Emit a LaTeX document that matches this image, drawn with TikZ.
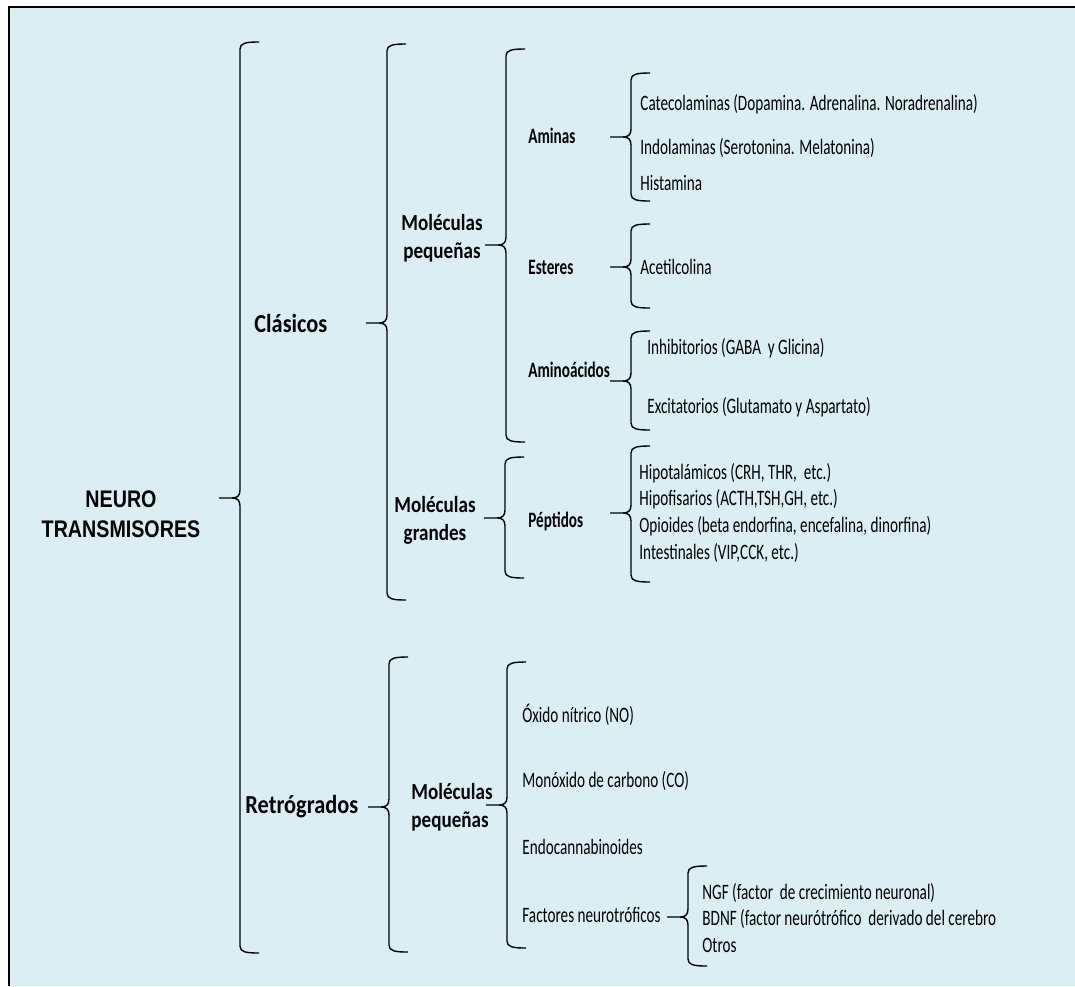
\documentclass[tikz,border=0pt]{standalone}
\usepackage{fontspec}
\setmainfont{Carlito}
\newfontfamily\itemfont[FakeStretch=0.69]{Carlito}
\newfontfamily\midfont[FakeStretch=0.83]{Carlito}
\newfontfamily\topfont[FakeStretch=0.86]{Carlito}
\newfontfamily\rootfont[FakeStretch=0.82]{Liberation Sans}
\definecolor{bgblue}{RGB}{218,238,243}
\newcommand\brc[4]{%
  \draw[brc] (#1+19,#2) .. controls (#1+6,#2) and (#1,#2+1) .. (#1,#2+7)
    -- (#1,#3-8) .. controls (#1,#3-2) and (#1-3,#3) .. (#1-8,#3) -- (#1-21,#3)
    (#1-8,#3) .. controls (#1-3,#3) and (#1,#3+2) .. (#1,#3+8)
    -- (#1,#4-7) .. controls (#1,#4-1) and (#1+6,#4) .. (#1+19,#4);}
\begin{document}
\begin{tikzpicture}[x=.5pt,y=-.5pt,
    brc/.style={line width=.7pt},
    root/.style={align=center,inner sep=0,font=\fontsize{12}{15}\rootfont\bfseries},
    lvone/.style={anchor=base west,inner sep=0,font=\fontsize{13}{15}\topfont\bfseries},
    lvtwo/.style={align=center,inner sep=0,font=\fontsize{11.5}{14}\midfont\bfseries},
    lvthree/.style={anchor=base west,inner sep=0,font=\fontsize{11}{13}\itemfont\bfseries},
    leaf/.style={anchor=base west,inner sep=0,font=\fontsize{11}{13}\itemfont}]
    \useasboundingbox (0,0) rectangle (1075,986);
    \fill[bgblue] (9,7) rectangle (1075,986);
    \draw[line width=1pt] (9,986) -- (9,7) -- (1075,7);

    \node[root] (neuro) at (121,514) {NEURO\\TRANSMISORES};
    \node[lvone] (clasicos) at (254,332) {Clásicos};
    \node[lvone] (retro) at (245,813) {Retrógrados};
    \node[lvtwo] (molpeq) at (442,238) {Moléculas\\pequeñas};
    \node[lvtwo] (molgra) at (435,520) {Moléculas\\grandes};
    \node[lvtwo,align=left,anchor=west] (molpeqb) at (411,807) {Moléculas\\pequeñas};
    \node[lvthree] (aminas) at (528,143) {Aminas};
    \node[lvthree] (esteres) at (528,274) {Esteres};
    \node[lvthree] (aminoac) at (528,377) {Aminoácidos};
    \node[lvthree] (peptidos) at (528,527) {Péptidos};

    \node[leaf] (cateco) at (640,110) {Catecolaminas (Dopamina. Adrenalina. Noradrenalina)};
    \node[leaf] (indol) at (640,154) {Indolaminas (Serotonina. Melatonina)};
    \node[leaf] (hista) at (640,190) {Histamina};
    \node[leaf] (acetil) at (640,274) {Acetilcolina};
    \node[leaf] (inhib) at (647,354) {Inhibitorios (GABA\ \ y Glicina)};
    \node[leaf] (excit) at (647,413) {Excitatorios (Glutamato y Aspartato)};
    \node[leaf] (hipot) at (639,479) {Hipotalámicos (CRH, THR,\ \ etc.)};
    \node[leaf] (hipof) at (639,505) {Hipofisarios (ACTH,TSH,GH, etc.)};
    \node[leaf] (opio) at (639,532) {Opioides (beta endorfina, encefalina, dinorfina)};
    \node[leaf] (intest) at (639,559) {Intestinales (VIP,CCK, etc.)};
    \node[leaf] (oxido) at (522,722) {Óxido nítrico (NO)};
    \node[leaf] (monox) at (522,787) {Monóxido de carbono (CO)};
    \node[leaf] (endoc) at (522,854) {Endocannabinoides};
    \node[leaf] (factores) at (522,922) {Factores neurotróficos};
    \node[leaf] (ngf) at (702,899) {NGF (factor\ \ de crecimiento neuronal)};
    \node[leaf] (bdnf) at (702,925) {BDNF (factor neurótrófico\ \ derivado del cerebro};
    \node[leaf] (otros) at (702,952) {Otros};

    \brc{240}{42}{498}{953}
    \brc{387}{44}{323}{600}
    \brc{389}{657}{807}{952}
    \brc{506}{49}{245}{442}
    \brc{505}{457}{518}{578}
    \brc{507}{662}{805}{948}
    \brc{631}{73}{137}{201}
    \brc{631}{224}{267}{308}
    \brc{631}{331}{381}{430}
    \brc{631}{446}{513}{582}
    \brc{688}{866}{917}{966}
\end{tikzpicture}
\end{document}
